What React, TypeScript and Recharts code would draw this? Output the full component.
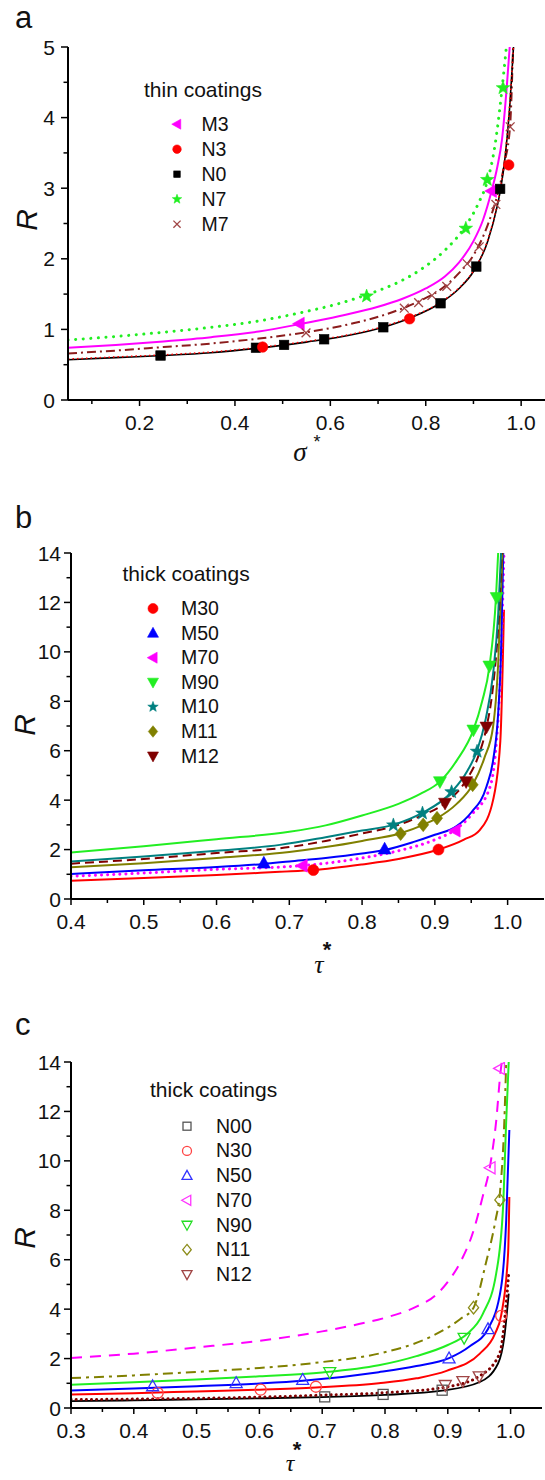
import React from "react";
import { ComposedChart, Line, Scatter, XAxis, YAxis } from "recharts";

type Pt = [number, number];
type Kind = "square" | "circle" | "up" | "down" | "left" | "star" | "diamond" | "cross";

const FONT = "'Liberation Sans', Arial, Helvetica, sans-serif";
const SERIF = "'Liberation Serif', 'DejaVu Serif', serif";

// ---------- panel a: thin coatings ----------
const aXMajor = [0.2, 0.4, 0.6, 0.8, 1.0];
const aXMinor = [0.1, 0.3, 0.5, 0.7, 0.9];
const aYMajor = [0, 1, 2, 3, 4, 5];
const aYMinor = [0.5, 1.5, 2.5, 3.5, 4.5];

const aM3Curve: Pt[] = [[0.05, 0.74], [0.15, 0.78], [0.25, 0.83], [0.35, 0.89], [0.45, 0.97], [0.54, 1.08], [0.62, 1.19], [0.7, 1.32], [0.75, 1.43], [0.8, 1.58], [0.84, 1.75], [0.87, 1.95], [0.9, 2.25], [0.92, 2.55], [0.938, 2.96], [0.95, 3.3], [0.96, 3.7], [0.97, 4.45], [0.976, 5.0]];
const aN3Curve: Pt[] = [[0.05, 0.58], [0.15, 0.61], [0.25, 0.64], [0.35, 0.68], [0.45, 0.745], [0.55, 0.83], [0.65, 0.94], [0.71, 1.04], [0.77, 1.18], [0.83, 1.38], [0.87, 1.59], [0.9, 1.83], [0.93, 2.27], [0.95, 2.78], [0.958, 3.06], [0.966, 3.45], [0.976, 4.2], [0.984, 5.0]];
const aN0Curve: Pt[] = [[0.05, 0.57], [0.15, 0.6], [0.25, 0.63], [0.35, 0.67], [0.45, 0.735], [0.55, 0.82], [0.65, 0.93], [0.71, 1.03], [0.77, 1.17], [0.83, 1.37], [0.87, 1.58], [0.9, 1.82], [0.93, 2.25], [0.95, 2.75], [0.958, 3.03], [0.966, 3.42], [0.976, 4.15], [0.984, 5.0]];
const aN7Curve: Pt[] = [[0.05, 0.85], [0.15, 0.9], [0.25, 0.96], [0.35, 1.03], [0.45, 1.12], [0.54, 1.24], [0.62, 1.37], [0.68, 1.5], [0.74, 1.66], [0.79, 1.85], [0.84, 2.12], [0.88, 2.43], [0.91, 2.78], [0.93, 3.12], [0.945, 3.6], [0.959, 4.35], [0.969, 5.0]];
const aM7Curve: Pt[] = [[0.05, 0.66], [0.15, 0.7], [0.25, 0.75], [0.35, 0.8], [0.45, 0.87], [0.55, 0.96], [0.65, 1.09], [0.72, 1.22], [0.78, 1.38], [0.83, 1.56], [0.87, 1.8], [0.9, 2.05], [0.93, 2.48], [0.95, 2.9], [0.965, 3.35], [0.977, 3.9], [0.983, 5.0]];

const aM3Pts: Pt[] = [[0.535, 1.08], [0.938, 2.96]];
const aN3Pts: Pt[] = [[0.458, 0.75], [0.766, 1.15], [0.974, 3.33]];
const aN0Pts: Pt[] = [[0.244, 0.63], [0.444, 0.74], [0.503, 0.78], [0.587, 0.86], [0.711, 1.03], [0.831, 1.37], [0.906, 1.89], [0.956, 2.99]];
const aN7Pts: Pt[] = [[0.676, 1.47], [0.884, 2.43], [0.929, 3.12], [0.962, 4.42]];
const aM7Pts: Pt[] = [[0.549, 0.95], [0.755, 1.3], [0.785, 1.38], [0.813, 1.48], [0.844, 1.61], [0.887, 1.93], [0.912, 2.17], [0.947, 2.77], [0.977, 3.87]];

// ---------- panel b: thick coatings (M) ----------
const bXMajor = [0.4, 0.5, 0.6, 0.7, 0.8, 0.9, 1.0];
const bXMinor = [0.45, 0.55, 0.65, 0.75, 0.85, 0.95];
const bYMajor = [0, 2, 4, 6, 8, 10, 12, 14];
const bYMinor = [1, 3, 5, 7, 9, 11, 13];

const bM30Curve: Pt[] = [[0.4, 0.74], [0.5, 0.85], [0.6, 0.97], [0.687, 1.1], [0.733, 1.17], [0.8, 1.4], [0.85, 1.62], [0.905, 2.0], [0.94, 2.4], [0.962, 2.8], [0.98, 4.0], [0.99, 6.4], [0.995, 11.7]];
const bM50Curve: Pt[] = [[0.4, 1.01], [0.5, 1.16], [0.6, 1.29], [0.665, 1.42], [0.7, 1.52], [0.75, 1.66], [0.8, 1.84], [0.831, 1.98], [0.87, 2.3], [0.9, 2.6], [0.93, 2.95], [0.95, 3.5], [0.971, 4.55], [0.98, 5.6], [0.987, 7.5], [0.991, 10], [0.994, 14]];
const bM70Curve: Pt[] = [[0.4, 0.92], [0.5, 1.05], [0.6, 1.2], [0.687, 1.29], [0.718, 1.35], [0.8, 1.66], [0.85, 1.95], [0.9, 2.4], [0.928, 2.8], [0.95, 3.4], [0.976, 4.55], [0.985, 6.5], [0.99, 9], [0.993, 11.8], [0.995, 14]];
const bM90Curve: Pt[] = [[0.4, 1.88], [0.5, 2.13], [0.6, 2.42], [0.7, 2.72], [0.75, 2.98], [0.8, 3.38], [0.85, 3.85], [0.88, 4.25], [0.907, 4.75], [0.93, 5.6], [0.953, 6.84], [0.965, 8.0], [0.975, 9.4], [0.984, 12.2], [0.987, 14]];
const bM10Curve: Pt[] = [[0.4, 1.52], [0.5, 1.72], [0.6, 1.95], [0.687, 2.19], [0.75, 2.5], [0.8, 2.77], [0.843, 3.0], [0.882, 3.47], [0.923, 4.33], [0.945, 5.2], [0.958, 6.0], [0.97, 7.3], [0.98, 9.1], [0.987, 11.5], [0.991, 14]];
const bM11Curve: Pt[] = [[0.4, 1.28], [0.5, 1.45], [0.6, 1.66], [0.7, 1.9], [0.75, 2.1], [0.8, 2.35], [0.853, 2.66], [0.884, 3.0], [0.903, 3.27], [0.93, 3.85], [0.952, 4.62], [0.968, 5.7], [0.98, 6.97], [0.987, 9.5], [0.993, 14]];
const bM12Curve: Pt[] = [[0.4, 1.43], [0.5, 1.62], [0.6, 1.86], [0.7, 2.1], [0.75, 2.35], [0.8, 2.65], [0.85, 3.0], [0.88, 3.35], [0.914, 3.88], [0.943, 4.8], [0.96, 5.8], [0.971, 6.95], [0.98, 8.6], [0.987, 11], [0.992, 14]];

const bM30Pts: Pt[] = [[0.733, 1.17], [0.905, 2.0]];
const bM50Pts: Pt[] = [[0.665, 1.45], [0.831, 2.02]];
const bM70Pts: Pt[] = [[0.718, 1.35], [0.928, 2.77]];
const bM90Pts: Pt[] = [[0.907, 4.75], [0.953, 6.84], [0.975, 9.43], [0.985, 12.2]];
const bM10Pts: Pt[] = [[0.843, 2.99], [0.883, 3.47], [0.923, 4.33], [0.958, 5.97]];
const bM11Pts: Pt[] = [[0.853, 2.64], [0.884, 3.0], [0.903, 3.27], [0.952, 4.62]];
const bM12Pts: Pt[] = [[0.914, 3.88], [0.943, 4.75], [0.971, 6.96]];

// ---------- panel c: thick coatings (N) ----------
const cXMajor = [0.3, 0.4, 0.5, 0.6, 0.7, 0.8, 0.9, 1.0];
const cXMinor = [0.35, 0.45, 0.55, 0.65, 0.75, 0.85, 0.95];
const cYMajor = bYMajor;
const cYMinor = bYMinor;

const cN00Curve: Pt[] = [[0.3, 0.28], [0.4, 0.31], [0.5, 0.35], [0.6, 0.39], [0.7, 0.44], [0.8, 0.53], [0.891, 0.7], [0.951, 1.05], [0.98, 1.8], [0.99, 2.87], [0.997, 4.63]];
const cN30Curve: Pt[] = [[0.3, 0.55], [0.4, 0.6], [0.5, 0.67], [0.6, 0.74], [0.69, 0.83], [0.79, 1.0], [0.85, 1.2], [0.898, 1.5], [0.951, 2.2], [0.975, 3.0], [0.985, 3.75], [0.996, 6.25], [0.998, 8.54]];
const cN50Curve: Pt[] = [[0.3, 0.71], [0.4, 0.79], [0.5, 0.88], [0.6, 0.99], [0.669, 1.1], [0.79, 1.45], [0.85, 1.7], [0.902, 2.02], [0.935, 2.5], [0.964, 3.2], [0.985, 4.9], [0.993, 7.6], [0.998, 11.25]];
const cN70Curve: Pt[] = [[0.3, 2.02], [0.4, 2.2], [0.5, 2.45], [0.6, 2.72], [0.7, 3.1], [0.75, 3.35], [0.8, 3.65], [0.85, 4.1], [0.88, 4.55], [0.9, 5.1], [0.92, 5.9], [0.94, 7.1], [0.955, 8.5], [0.968, 9.9], [0.977, 11.6], [0.984, 13.6], [0.986, 14]];
const cN90Curve: Pt[] = [[0.3, 0.94], [0.4, 1.04], [0.5, 1.15], [0.6, 1.28], [0.7, 1.44], [0.79, 1.73], [0.85, 2.1], [0.9, 2.55], [0.93, 2.98], [0.956, 3.82], [0.977, 5.44], [0.988, 8.14], [0.993, 11.6], [0.997, 14]];
const cN11Curve: Pt[] = [[0.3, 1.21], [0.4, 1.32], [0.5, 1.46], [0.6, 1.62], [0.7, 1.86], [0.79, 2.2], [0.87, 2.85], [0.92, 3.6], [0.941, 4.06], [0.961, 5.9], [0.976, 7.6], [0.983, 8.7], [0.99, 11.6], [0.993, 14]];
const cN12Curve: Pt[] = [[0.3, 0.34], [0.4, 0.36], [0.5, 0.39], [0.6, 0.44], [0.7, 0.52], [0.8, 0.62], [0.898, 0.85], [0.951, 1.3], [0.9825, 2.2], [0.993, 4.23], [0.997, 5.44]];

const cN00Pts: Pt[] = [[0.704, 0.45], [0.797, 0.55], [0.891, 0.72]];
const cN30Pts: Pt[] = [[0.438, 0.61], [0.602, 0.74], [0.69, 0.86], [0.985, 3.73]];
const cN50Pts: Pt[] = [[0.43, 0.88], [0.563, 1.01], [0.669, 1.14], [0.902, 2.01], [0.964, 3.19]];
const cN70Pts: Pt[] = [[0.968, 9.72], [0.983, 13.74]];
const cN90Pts: Pt[] = [[0.712, 1.45], [0.926, 2.84]];
const cN11Pts: Pt[] = [[0.941, 4.06], [0.983, 8.42]];
const cN12Pts: Pt[] = [[0.896, 0.93], [0.924, 1.09], [0.95, 1.28]];

type Series = {
  name: string;
  curve: Pt[];
  pts: Pt[];
  line: string;
  mark: string;
  kind: Kind;
  size: number;
  legSize: number;
  dash?: string;
  lw?: number;
  cap?: "round" | "butt";
  open?: boolean;
};

const aSeries: Series[] = [
  { name: "M3", curve: aM3Curve, pts: aM3Pts, line: "#ff00ff", mark: "#ff00ff", kind: "left", size: 13, legSize: 10, lw: 2 },
  { name: "N3", curve: aN3Curve, pts: aN3Pts, line: "#ff0000", mark: "#ff0000", kind: "circle", size: 10.5, legSize: 8.5, dash: "1.5 3", lw: 1.5 },
  { name: "N0", curve: aN0Curve, pts: aN0Pts, line: "#000000", mark: "#000000", kind: "square", size: 9.5, legSize: 6.5, lw: 1.6 },
  { name: "N7", curve: aN7Curve, pts: aN7Pts, line: "#22ee22", mark: "#22ee22", kind: "star", size: 13, legSize: 9, dash: "0.1 7.5", lw: 3, cap: "round" },
  { name: "M7", curve: aM7Curve, pts: aM7Pts, line: "#8b1c1c", mark: "#a04545", kind: "cross", size: 11, legSize: 9, dash: "9 4 2 4", lw: 2 },
];
const aDrawOrder = ["N7", "M3", "M7", "N0", "N3"];

const bSeries: Series[] = [
  { name: "M30", curve: bM30Curve, pts: bM30Pts, line: "#ff0000", mark: "#ff0000", kind: "circle", size: 11, legSize: 10, lw: 2 },
  { name: "M50", curve: bM50Curve, pts: bM50Pts, line: "#0000ff", mark: "#0000ff", kind: "up", size: 13, legSize: 11, lw: 2 },
  { name: "M70", curve: bM70Curve, pts: bM70Pts, line: "#ff00ff", mark: "#ff00ff", kind: "left", size: 13, legSize: 11, dash: "0.1 6", lw: 3, cap: "round" },
  { name: "M90", curve: bM90Curve, pts: bM90Pts, line: "#22ee22", mark: "#22ee22", kind: "down", size: 13, legSize: 11, lw: 2 },
  { name: "M10", curve: bM10Curve, pts: bM10Pts, line: "#008080", mark: "#008080", kind: "star", size: 13, legSize: 10, lw: 2 },
  { name: "M11", curve: bM11Curve, pts: bM11Pts, line: "#808000", mark: "#808000", kind: "diamond", size: 13, legSize: 11, lw: 2 },
  { name: "M12", curve: bM12Curve, pts: bM12Pts, line: "#800000", mark: "#800000", kind: "down", size: 13, legSize: 11, dash: "9 5", lw: 2 },
];
const bDrawOrder = ["M30", "M70", "M50", "M11", "M12", "M10", "M90"];

const cSeries: Series[] = [
  { name: "N00", curve: cN00Curve, pts: cN00Pts, line: "#000000", mark: "#555555", kind: "square", size: 10, legSize: 8, lw: 1.8, open: true },
  { name: "N30", curve: cN30Curve, pts: cN30Pts, line: "#ff0000", mark: "#ff4444", kind: "circle", size: 11, legSize: 9, lw: 2, open: true },
  { name: "N50", curve: cN50Curve, pts: cN50Pts, line: "#0000ff", mark: "#3333ff", kind: "up", size: 12, legSize: 10, lw: 2, open: true },
  { name: "N70", curve: cN70Curve, pts: cN70Pts, line: "#ff00ff", mark: "#ff33ff", kind: "left", size: 12, legSize: 10, dash: "11 8", lw: 2, open: true },
  { name: "N90", curve: cN90Curve, pts: cN90Pts, line: "#22ee22", mark: "#22dd22", kind: "down", size: 12, legSize: 10, lw: 2, open: true },
  { name: "N11", curve: cN11Curve, pts: cN11Pts, line: "#808000", mark: "#8c8c1a", kind: "diamond", size: 12, legSize: 10, dash: "10 5 3 5", lw: 2, open: true },
  { name: "N12", curve: cN12Curve, pts: cN12Pts, line: "#800000", mark: "#a04545", kind: "down", size: 12, legSize: 10, dash: "0.1 5", lw: 3, cap: "round", open: true },
];
const cDrawOrder = ["N00", "N12", "N30", "N50", "N90", "N11", "N70"];

const toXY = (pts: Pt[]) => pts.map(([x, y]) => ({ x, y }));
const has = (arr: number[], v: number) => arr.some((a) => Math.abs(a - v) < 1e-9);

function starPoints(cx: number, cy: number, R: number, r: number) {
  const out: string[] = [];
  for (let i = 0; i < 10; i++) {
    const a = -Math.PI / 2 + (i * Math.PI) / 5;
    const rad = i % 2 === 0 ? R : r;
    out.push(`${cx + rad * Math.cos(a)},${cy + rad * Math.sin(a)}`);
  }
  return out.join(" ");
}

function Marker({ kind, cx, cy, size, color, open }: { kind: Kind; cx: number; cy: number; size: number; color: string; open?: boolean }) {
  const h = size / 2;
  const fill = open ? "none" : color;
  const sw = open ? 1.3 : 0.6;
  const common = { fill, stroke: color, strokeWidth: sw };
  switch (kind) {
    case "square":
      return <rect x={cx - h} y={cy - h} width={size} height={size} {...common} />;
    case "circle":
      return <circle cx={cx} cy={cy} r={h} {...common} />;
    case "up":
      return <polygon points={`${cx},${cy - h * 1.05} ${cx + h},${cy + h * 0.75} ${cx - h},${cy + h * 0.75}`} {...common} />;
    case "down":
      return <polygon points={`${cx},${cy + h * 1.05} ${cx + h},${cy - h * 0.75} ${cx - h},${cy - h * 0.75}`} {...common} />;
    case "left":
      return <polygon points={`${cx - h * 1.05},${cy} ${cx + h * 0.75},${cy - h} ${cx + h * 0.75},${cy + h}`} {...common} />;
    case "diamond":
      return <polygon points={`${cx},${cy - h * 1.05} ${cx + h * 0.85},${cy} ${cx},${cy + h * 1.05} ${cx - h * 0.85},${cy}`} {...common} />;
    case "star":
      return <polygon points={starPoints(cx, cy, h * 1.1, h * 0.45)} {...common} />;
    case "cross":
      return (
        <g stroke={color} strokeWidth={1.3}>
          <line x1={cx - h * 0.8} y1={cy - h * 0.8} x2={cx + h * 0.8} y2={cy + h * 0.8} />
          <line x1={cx - h * 0.8} y1={cy + h * 0.8} x2={cx + h * 0.8} y2={cy - h * 0.8} />
        </g>
      );
  }
  return null;
}

type PanelProps = {
  top: number;
  height: number;
  margin: { top: number; right: number; bottom: number; left: number };
  yWidth: number;
  xDomain: [number, number];
  yDomain: [number, number];
  xMajor: number[];
  xMinor: number[];
  yMajor: number[];
  yMinor: number[];
  series: Series[];
  order: string[];
  yGap: number;
};

function Panel(p: PanelProps) {
  const xTicks = [...p.xMajor, ...p.xMinor].sort((a, b) => a - b);
  const yTicks = [...p.yMajor, ...p.yMinor].sort((a, b) => a - b);
  const drawn = p.order.map((n) => p.series.find((s) => s.name === n)!);

  const xTick = (t: any) => {
    const major = has(p.xMajor, t.payload.value);
    return (
      <g>
        <line x1={t.x} y1={t.y} x2={t.x} y2={t.y + (major ? 6 : 4)} stroke="#000" strokeWidth={1.5} />
        {major && (
          <text x={t.x} y={t.y + 30} textAnchor="middle" fontSize={21} fontFamily={FONT} fill="#111">
            {Number(t.payload.value).toFixed(1)}
          </text>
        )}
      </g>
    );
  };
  const yTick = (t: any) => {
    const major = has(p.yMajor, t.payload.value);
    return (
      <g>
        <line x1={t.x - (major ? 7 : 4.5)} y1={t.y} x2={t.x} y2={t.y} stroke="#000" strokeWidth={1.5} />
        {major && (
          <text x={t.x - p.yGap} y={t.y + 7.5} textAnchor="end" fontSize={21} fontFamily={FONT} fill="#111">
            {t.payload.value}
          </text>
        )}
      </g>
    );
  };

  return (
    <div style={{ position: "absolute", left: 0, top: p.top }}>
      <ComposedChart width={545} height={p.height} margin={p.margin}>
        <XAxis
          type="number"
          dataKey="x"
          domain={p.xDomain}
          allowDataOverflow
          ticks={xTicks}
          interval={0}
          tickSize={0}
          tickMargin={0}
          tickLine={false}
          axisLine={{ stroke: "#000", strokeWidth: 2 }}
          tick={xTick}
          height={30}
        />
        <YAxis
          type="number"
          dataKey="y"
          domain={p.yDomain}
          allowDataOverflow
          ticks={yTicks}
          interval={0}
          tickSize={0}
          tickMargin={0}
          tickLine={false}
          axisLine={{ stroke: "#000", strokeWidth: 2 }}
          tick={yTick}
          width={p.yWidth}
        />
        {drawn.map((s) => (
          <Line
            key={"l" + s.name}
            data={toXY(s.curve)}
            dataKey="y"
            type="monotone"
            dot={false}
            activeDot={false}
            stroke={s.line}
            strokeWidth={s.lw ?? 2}
            strokeDasharray={s.dash}
            strokeLinecap={s.cap ?? "butt"}
            isAnimationActive={false}
          />
        ))}
        {drawn.map((s) => (
          <Scatter
            key={"s" + s.name}
            data={toXY(s.pts)}
            dataKey="y"
            isAnimationActive={false}
            shape={(props: any) => <Marker kind={s.kind} cx={props.cx} cy={props.cy} size={s.size} color={s.mark} open={s.open} />}
          />
        ))}
      </ComposedChart>
    </div>
  );
}

function LegendBlock({ title, tx, ty, mx, textX, y0, step, series }: { title: string; tx: number; ty: number; mx: number; textX: number; y0: number; step: number; series: Series[] }) {
  return (
    <g>
      <text x={tx} y={ty} fontSize={21} fontFamily={FONT} fill="#111">{title}</text>
      {series.map((s, i) => (
        <g key={s.name}>
          <Marker kind={s.kind} cx={mx} cy={y0 + i * step - 6.5} size={s.legSize} color={s.mark} open={s.open} />
          <text x={textX} y={y0 + i * step} fontSize={19.5} fontFamily={FONT} fill="#111">{s.name}</text>
        </g>
      ))}
    </g>
  );
}

export default function App() {
  return (
    <div style={{ position: "absolute", left: 0, top: 0, width: 545, height: 1480, background: "#fff", overflow: "hidden" }}>
      <Panel
        top={0}
        height={480}
        margin={{ top: 47, right: 0, bottom: 50, left: 0 }}
        yWidth={68}
        xDomain={[0.05, 1.05]}
        yDomain={[0, 5]}
        xMajor={aXMajor}
        xMinor={aXMinor}
        yMajor={aYMajor}
        yMinor={aYMinor}
        series={aSeries}
        order={aDrawOrder}
        yGap={13}
      />
      <Panel
        top={480}
        height={480}
        margin={{ top: 73, right: 1, bottom: 31, left: 0 }}
        yWidth={71}
        xDomain={[0.4, 1.05]}
        yDomain={[0, 14]}
        xMajor={bXMajor}
        xMinor={bXMinor}
        yMajor={bYMajor}
        yMinor={bYMinor}
        series={bSeries}
        order={bDrawOrder}
        yGap={10}
      />
      <Panel
        top={960}
        height={520}
        margin={{ top: 102, right: 3, bottom: 42, left: 0 }}
        yWidth={71}
        xDomain={[0.3, 1.05]}
        yDomain={[0, 14]}
        xMajor={cXMajor}
        xMinor={cXMinor}
        yMajor={cYMajor}
        yMinor={cYMinor}
        series={cSeries}
        order={cDrawOrder}
        yGap={10}
      />
      <svg width={545} height={1480} style={{ position: "absolute", left: 0, top: 0, pointerEvents: "none" }}>
        <text x={15} y={28} fontSize={31} fontFamily={FONT} fill="#111">a</text>
        <text x={15} y={528} fontSize={31} fontFamily={FONT} fill="#111">b</text>
        <text x={15} y={1035} fontSize={31} fontFamily={FONT} fill="#111">c</text>

        <text x={26} y={220} transform="rotate(-90 26 220)" textAnchor="middle" dominantBaseline="central" fontSize={30} fontStyle="italic" fontFamily={FONT} fill="#111">R</text>
        <text x={24} y={725} transform="rotate(-90 24 725)" textAnchor="middle" dominantBaseline="central" fontSize={30} fontStyle="italic" fontFamily={FONT} fill="#111">R</text>
        <text x={24} y={1238} transform="rotate(-90 24 1238)" textAnchor="middle" dominantBaseline="central" fontSize={30} fontStyle="italic" fontFamily={FONT} fill="#111">R</text>

        <text x={300} y={461} textAnchor="middle" fontSize={27} fontStyle="italic" fontFamily={SERIF} fill="#111">σ</text>
        <text x={317} y={448} textAnchor="middle" fontSize={18} fontFamily={FONT} fill="#111">*</text>

        <text x={327} y={957} textAnchor="middle" fontSize={22} fontWeight="bold" fontFamily={FONT} fill="#111">*</text>
        <text x={319} y={973} textAnchor="middle" fontSize={26} fontStyle="italic" fontFamily={SERIF} fill="#111">τ</text>

        <text x={297} y={1457} textAnchor="middle" fontSize={22} fontWeight="bold" fontFamily={FONT} fill="#111">*</text>
        <text x={290} y={1471} textAnchor="middle" fontSize={24} fontStyle="italic" fontFamily={SERIF} fill="#111">τ</text>

        <LegendBlock title="thin coatings" tx={144} ty={97} mx={177} textX={201.5} y0={130.7} step={25} series={aSeries} />
        <LegendBlock title="thick coatings" tx={122.5} ty={580.7} mx={153} textX={181} y0={615} step={24.6} series={bSeries} />
        <LegendBlock title="thick coatings" tx={150} ty={1096.7} mx={187} textX={216} y0={1132.7} step={24.7} series={cSeries} />
      </svg>
    </div>
  );
}
